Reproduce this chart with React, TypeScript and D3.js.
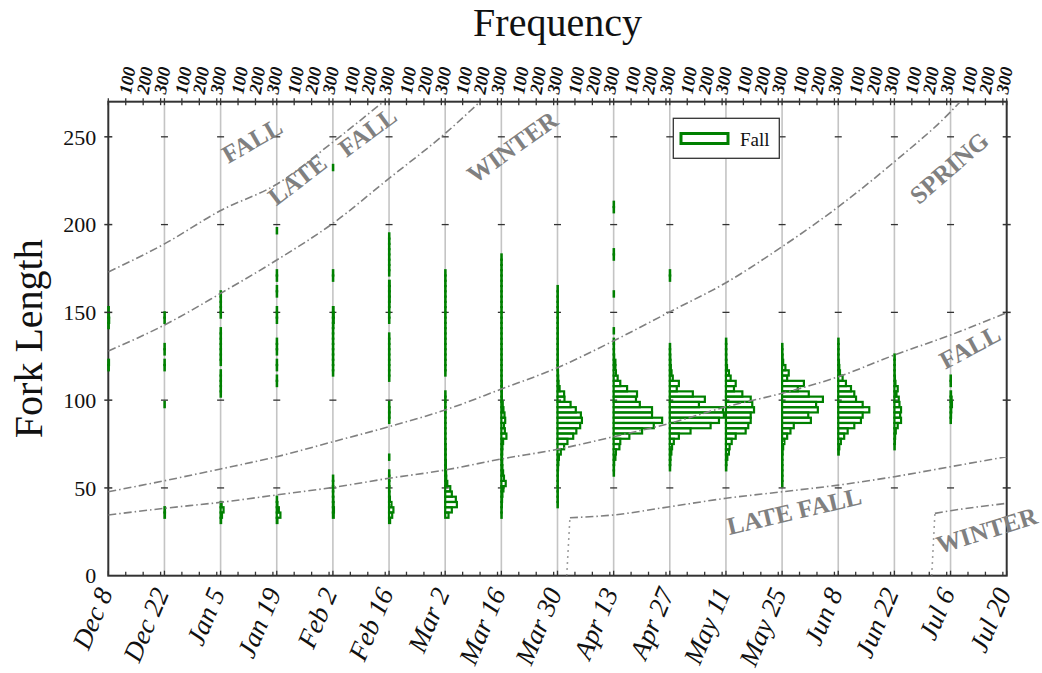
import * as d3 from "d3";

// two-week sampling dates (Dec 8 = day 0)
const dateLabels = [
  "Dec 8", "Dec 22", "Jan 5", "Jan 19", "Feb 2", "Feb 16", "Mar 2", "Mar 16", "Mar 30",
  "Apr 13", "Apr 27", "May 11", "May 25", "Jun 8", "Jun 22", "Jul 6", "Jul 20",
];
const lengthTicks = [0, 50, 100, 150, 200, 250];
const freqTicks = [100, 200, 300];

// fork length histograms: [bin lower edge (mm), frequency]
const dec8 = [[117, 3], [120, 4], [141, 3], [144, 5], [147, 4], [150, 3]];
const dec22 = [[33, 3], [36, 3], [96, 2], [117, 2], [120, 2], [126, 2], [129, 2], [144, 2], [147, 2]];
const jan5 = [[30, 3], [33, 8], [36, 17], [39, 6], [102, 2], [105, 2], [108, 2], [111, 2], [114, 2], [120, 2], [123, 2], [126, 2], [129, 2], [132, 2], [135, 2], [138, 2], [147, 2], [150, 2], [153, 2], [156, 2], [159, 2]];
const jan19 = [[30, 4], [33, 21], [36, 12], [39, 4], [42, 2], [108, 2], [111, 2], [117, 2], [120, 2], [126, 2], [129, 2], [132, 2], [144, 2], [147, 2], [150, 2], [159, 2], [162, 2], [168, 2], [171, 2], [195, 2]];
const feb2 = [[33, 5], [36, 6], [39, 4], [42, 3], [45, 2], [48, 2], [51, 2], [54, 2], [114, 2], [117, 2], [120, 2], [123, 2], [126, 2], [129, 2], [132, 2], [135, 2], [138, 2], [141, 3], [144, 5], [147, 5], [150, 4], [168, 2], [171, 2], [231, 2]];
const feb16 = [[30, 6], [33, 18], [36, 25], [39, 14], [42, 5], [45, 3], [48, 2], [51, 2], [54, 2], [57, 2], [66, 2], [87, 2], [90, 3], [93, 3], [96, 2], [111, 2], [114, 2], [117, 2], [120, 2], [123, 2], [126, 2], [129, 2], [132, 2], [135, 2], [144, 2], [147, 2], [150, 2], [153, 3], [156, 4], [159, 4], [162, 4], [165, 4], [171, 2], [174, 2], [177, 2], [180, 2], [183, 2], [186, 2], [189, 2], [192, 2]];
const mar2 = [[33, 19], [36, 38], [39, 67], [42, 61], [45, 38], [48, 29], [51, 12], [54, 6], [57, 5], [60, 4], [63, 4], [66, 3], [69, 3], [72, 3], [75, 2], [78, 2], [81, 2], [84, 2], [87, 2], [90, 2], [93, 2], [96, 2], [99, 2], [102, 2], [114, 2], [117, 2], [120, 2], [123, 2], [126, 2], [129, 2], [132, 2], [135, 2], [138, 2], [141, 2], [144, 2], [147, 2], [150, 2], [153, 2], [156, 2], [159, 2], [162, 2], [165, 2], [168, 2], [171, 2]];
const mar16 = [[33, 2], [36, 2], [39, 3], [42, 4], [45, 6], [48, 12], [51, 25], [54, 15], [57, 10], [60, 6], [63, 5], [66, 4], [69, 5], [72, 6], [75, 10], [78, 29], [81, 20], [84, 15], [87, 22], [90, 18], [93, 12], [96, 8], [99, 3], [102, 3], [105, 3], [108, 3], [111, 2], [114, 2], [117, 2], [120, 2], [123, 2], [126, 2], [129, 2], [132, 2], [135, 2], [138, 2], [141, 2], [144, 2], [147, 2], [150, 2], [153, 2], [156, 2], [159, 2], [162, 2], [165, 2], [168, 2], [171, 2], [174, 2], [177, 2], [180, 2]];
const mar30 = [[39, 2], [42, 2], [45, 2], [48, 2], [51, 2], [54, 2], [57, 2], [60, 3], [63, 5], [66, 8], [69, 19], [72, 38], [75, 57], [78, 90], [81, 108], [84, 130], [87, 140], [90, 134], [93, 105], [96, 75], [99, 40], [102, 38], [105, 12], [108, 6], [111, 4], [114, 3], [117, 2], [120, 2], [123, 2], [126, 2], [129, 2], [132, 2], [135, 2], [138, 2], [141, 2], [144, 2], [147, 2], [150, 2], [153, 2], [156, 2], [159, 2], [162, 2]];
const apr13 = [[57, 2], [60, 2], [63, 3], [66, 10], [69, 13], [72, 33], [75, 38], [78, 90], [81, 163], [84, 230], [87, 278], [90, 220], [93, 220], [96, 150], [99, 128], [102, 134], [105, 77], [108, 38], [111, 23], [114, 13], [117, 10], [120, 10], [123, 3], [126, 2], [129, 2], [132, 2], [138, 2], [159, 2], [180, 2], [183, 2], [207, 2], [210, 2]];
const apr27 = [[60, 2], [63, 3], [66, 4], [69, 9], [72, 13], [75, 23], [78, 52], [81, 119], [84, 234], [87, 282], [90, 310], [93, 305], [96, 167], [99, 201], [102, 132], [105, 40], [108, 52], [111, 17], [114, 10], [117, 6], [120, 4], [123, 3], [126, 2], [129, 2], [168, 2], [171, 2]];
const may11 = [[60, 2], [63, 3], [66, 8], [69, 17], [72, 21], [75, 33], [78, 56], [81, 113], [84, 128], [87, 142], [90, 142], [93, 161], [96, 151], [99, 142], [102, 94], [105, 46], [108, 56], [111, 27], [114, 17], [117, 6], [120, 3], [123, 2], [126, 2], [129, 2], [132, 2]];
const may25 = [[51, 2], [54, 2], [57, 2], [60, 2], [63, 2], [66, 2], [69, 3], [72, 6], [75, 13], [78, 29], [81, 48], [84, 67], [87, 165], [90, 150], [93, 205], [96, 195], [99, 234], [102, 153], [105, 90], [108, 125], [111, 29], [114, 38], [117, 19], [120, 6], [123, 3], [126, 2], [129, 2]];
const jun8 = [[69, 3], [72, 6], [75, 15], [78, 34], [81, 54], [84, 92], [87, 130], [90, 140], [93, 178], [96, 140], [99, 102], [102, 92], [105, 73], [108, 44], [111, 25], [114, 10], [117, 6], [120, 4], [123, 2], [126, 2], [129, 2], [132, 2]];
const jun22 = [[72, 2], [75, 3], [78, 4], [81, 8], [84, 19], [87, 38], [90, 33], [93, 38], [96, 29], [99, 25], [102, 12], [105, 19], [108, 6], [111, 3], [114, 2], [117, 2], [120, 2], [123, 2]];
const jul6 = [[87, 2], [90, 3], [93, 4], [96, 8], [99, 6], [102, 3], [108, 2], [111, 2]];

const samples = [dec8, dec22, jan5, jan19, feb2, feb16, mar2, mar16, mar30, apr13, apr27, may11, may25, jun8, jun22, jul6];

// run boundary curves: [day, fork length]
const fallTop = [[0, 173], [14, 189], [28, 208], [42, 223], [56, 247], [68.6, 270]];
const lateFallTop = [[0, 128], [14, 142.8], [28, 160.8], [42, 179.8], [56, 200.7], [70, 226.3], [84, 251.9], [92.7, 270]];
const winterTop = [[0, 47.8], [14, 54.1], [28, 60.8], [42, 67.8], [56, 76.3], [70, 84.9], [84, 94.4], [98, 106.3], [112, 118.5], [126, 133.8], [140, 150.3], [154, 166.9], [168, 187.4], [182, 210.1], [196, 235.8], [210, 264.2], [212.4, 270]];
const fallLow = [[0, 34.6], [14, 38.4], [28, 41.8], [42, 46], [56, 50.3], [70, 55.5], [84, 60.2], [98, 66.5], [112, 72], [126, 79.2], [140, 86.8], [154, 96.2], [168, 103.9], [182, 113.3], [196, 125.7], [210, 137.1], [224, 149.8]];
const lateFallLow = [[115.1, 33], [126, 34.6], [140, 39.3], [154, 44.1], [168, 47.8], [182, 51.6], [196, 56.4], [210, 62.1], [224, 67.8]];
const lateFallStart = [[114.3, 0], [115.1, 33]];
const winterLow = [[206.1, 35.5], [210, 37], [224, 41.2]];
const winterStart = [[205.3, 0], [206.1, 35.5]];

const curveLabels = [
  { text: "FALL", day: 35.8, len: 248, angle: -30 },
  { text: "LATE", day: 47.1, len: 225.7, angle: -37.5 },
  { text: "FALL", day: 64.6, len: 252.9, angle: -36.5 },
  { text: "WINTER", day: 100.7, len: 244.3, angle: -35.5 },
  { text: "SPRING", day: 209.6, len: 232.5, angle: -41 },
  { text: "FALL", day: 214.8, len: 130.4, angle: -28 },
  { text: "LATE FALL", day: 171, len: 36.9, angle: -13.2 },
  { text: "WINTER", day: 219, len: 26, angle: -17.2 },
];

const BIN = 3;
const DAY_STEP = 14;
const FREQ_SPAN = 322;

const serif = '"Liberation Serif", "Times New Roman", serif';

export default function App() {
  const width = 1042;
  const height = 673;
  const m = { top: 101.7, right: 35.3, bottom: 97.3, left: 108.3 };

  const x = d3.scaleLinear().domain([0, 224]).range([m.left, width - m.right]);
  const y = d3.scaleLinear().domain([0, 270]).range([height - m.bottom, m.top]);
  const f = d3.scaleLinear().domain([0, FREQ_SPAN]).range([0, x(DAY_STEP) - x(0)]);

  const line = d3.line<number[]>()
    .x((d) => x(d[0]))
    .y((d) => y(d[1]))
    .curve(d3.curveMonotoneX);

  const days = dateLabels.map((_, i) => i * DAY_STEP);
  const panels = days.slice(0, -1);
  const dashDot = "8,3,1.5,3";

  return (
    <svg width={width} height={height} style={{ position: "absolute", left: 0, top: 0 }} fontFamily={serif}>
      <rect width={width} height={height} fill="#fff" />
      <defs>
        <clipPath id="plot">
          <rect x={m.left} y={m.top} width={x(224) - m.left} height={y(0) - m.top} />
        </clipPath>
      </defs>

      {/* date gridlines */}
      {days.slice(1, -1).map((d) => (
        <line key={d} x1={x(d)} x2={x(d)} y1={y(270)} y2={y(0)} stroke="#c4c4c4" strokeWidth={1.6} />
      ))}

      {/* per-panel length ticks */}
      {days.slice(1, -1).map((d) =>
        lengthTicks.slice(1).map((v) => (
          <line key={d + "-" + v} x1={x(d) - 3.5} x2={x(d) + 3.5} y1={y(v)} y2={y(v)} stroke="#333" strokeWidth={1.3} />
        ))
      )}

      {/* frame */}
      <rect x={m.left} y={m.top} width={x(224) - m.left} height={y(0) - m.top} fill="none" stroke="#333" strokeWidth={2} />

      {/* histograms */}
      <g>
        {samples.map((bins, i) =>
          bins.map(([lo, n]) => (
            <rect
              key={i + "-" + lo}
              x={x(panels[i])}
              y={y(lo + BIN)}
              width={f(n)}
              height={y(lo) - y(lo + BIN)}
              fill="none"
              stroke="#008000"
              strokeWidth={2.2}
            />
          ))
        )}
      </g>

      {/* run boundary curves */}
      <g clipPath="url(#plot)" fill="none" stroke="#808080" strokeWidth={1.6}>
        {[fallTop, lateFallTop, winterTop, fallLow, lateFallLow, winterLow].map((c, i) => (
          <path key={i} d={line(c) ?? ""} strokeDasharray={dashDot} />
        ))}
        {[lateFallStart, winterStart].map((c, i) => (
          <path key={"s" + i} d={line(c) ?? ""} strokeDasharray="1.5,4.5" />
        ))}
      </g>

      {/* curve labels */}
      {curveLabels.map((l, i) => (
        <text
          key={i}
          transform={`translate(${x(l.day)},${y(l.len)}) rotate(${l.angle})`}
          textAnchor="middle"
          dy="0.35em"
          fontSize={25}
          fontWeight="bold"
          fill="#808080"
        >
          {l.text}
        </text>
      ))}

      {/* legend */}
      <g>
        <rect x={673.3} y={118.3} width={106} height={40} fill="#fff" stroke="#333" strokeWidth={1.3} />
        <rect x={681} y={133.5} width={47} height={10} fill="#fff" stroke="#008000" strokeWidth={3} />
        <text x={740} y={146} fontSize={19} fill="#111">Fall</text>
      </g>

      {/* left / right axis ticks */}
      {lengthTicks.slice(1).map((v) => (
        <g key={"yt" + v}>
          <line x1={x(0) - 4} x2={x(0) + 4} y1={y(v)} y2={y(v)} stroke="#333" strokeWidth={1.5} />
          <line x1={x(224) - 4} x2={x(224) + 4} y1={y(v)} y2={y(v)} stroke="#333" strokeWidth={1.5} />
        </g>
      ))}
      {lengthTicks.map((v) => (
        <text key={"yl" + v} x={m.left - 12} y={y(v)} dy="0.35em" textAnchor="end" fontSize={22} fill="#111">
          {v}
        </text>
      ))}

      {/* top & bottom frequency ticks */}
      {panels.map((d) =>
        freqTicks.map((t) => (
          <g key={"ft" + d + "-" + t}>
            <line x1={x(d) + f(t)} x2={x(d) + f(t)} y1={m.top - 3.5} y2={m.top + 3.5} stroke="#333" strokeWidth={1.3} />
            <line x1={x(d) + f(t)} x2={x(d) + f(t)} y1={y(0) - 4} y2={y(0)} stroke="#333" strokeWidth={1.3} />
            <text
              transform={`translate(${x(d) + f(t) - 1},${m.top - 8}) rotate(-80)`}
              dy="0.35em"
              fontSize={18}
              fontWeight="bold"
              fontStyle="italic"
              fill="#111"
            >
              {t}
            </text>
          </g>
        ))
      )}
      {days.map((d) => (
        <g key={"dt" + d}>
          <line x1={x(d)} x2={x(d)} y1={m.top - 3.5} y2={m.top + 3.5} stroke="#333" strokeWidth={1.3} />
          <line x1={x(d)} x2={x(d)} y1={y(0) - 5} y2={y(0)} stroke="#333" strokeWidth={1.3} />
        </g>
      ))}

      {/* date labels */}
      {dateLabels.map((lab, i) => (
        <text
          key={lab}
          transform={`translate(${x(days[i]) + 5},${y(0) + 17}) rotate(-67)`}
          textAnchor="end"
          fontSize={27}
          fontStyle="italic"
          fill="#111"
        >
          {lab}
        </text>
      ))}

      {/* axis titles */}
      <text x={(x(0) + x(224)) / 2} y={36} textAnchor="middle" fontSize={40} fill="#111">
        Frequency
      </text>
      <text transform={`translate(42,${(y(0) + y(270)) / 2}) rotate(-90)`} textAnchor="middle" fontSize={40} fill="#111">
        Fork Length
      </text>
    </svg>
  );
}
